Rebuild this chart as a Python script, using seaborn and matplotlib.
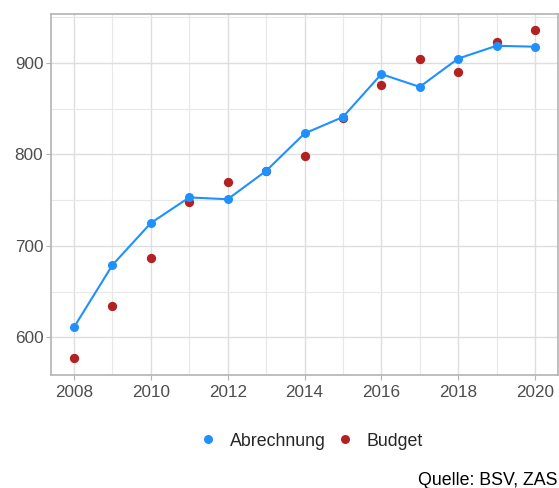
import pandas as pd
import numpy as np
import seaborn as sns
import matplotlib.pyplot as plt
from matplotlib.ticker import MultipleLocator
from matplotlib.lines import Line2D

# data
years = [2008, 2009, 2010, 2011, 2012, 2013, 2014, 2015, 2016, 2017, 2018, 2019, 2020]
abrechnung = [611, 679, 725, 753, 751, 782, 823, 841, 888, 874, 905, 919, 918]
budget = [577, 634, 687, 748, 770, 782, 798, 840, 876, 905, 890, 923, 936]

df = pd.DataFrame({'Jahr': years, 'Abrechnung': abrechnung, 'Budget': budget})

blue = '#1E90FF'
red = '#B22222'

sns.set_style("white")
plt.rcParams['font.family'] = ['Liberation Sans', 'DejaVu Sans']

fig = plt.figure(figsize=(5.59, 4.88), dpi=100)
ax = fig.add_axes([51/559, 1 - 375/488, 507/559, 361/488])

sns.lineplot(data=df, x='Jahr', y='Abrechnung', color=blue, linewidth=1.5,
             marker='o', markersize=6.5, markeredgewidth=0, ax=ax, zorder=3)
sns.scatterplot(data=df, x='Jahr', y='Budget', color=red, s=45, linewidth=0,
                ax=ax, zorder=2)

ax.set_xlim(2007.4, 2020.6)
ax.set_ylim(558.6, 953.8)
ax.xaxis.set_major_locator(MultipleLocator(2))
ax.xaxis.set_minor_locator(MultipleLocator(1))
ax.yaxis.set_major_locator(MultipleLocator(100))
ax.yaxis.set_minor_locator(MultipleLocator(50))
ax.grid(which='major', color='#DEDEDE', linewidth=1.0)
ax.grid(which='minor', color='#E8E8E8', linewidth=0.8)
ax.set_axisbelow(True)

for s in ax.spines.values():
    s.set_color('#B3B3B3')
    s.set_linewidth(1.2)

ax.tick_params(axis='both', which='major', length=3.5, width=0.8, color='#B3B3B3',
               labelsize=12.3, labelcolor='#4D4D4D', bottom=True, left=True)
ax.tick_params(axis='x', which='major', pad=4)
ax.tick_params(axis='y', which='major', pad=2)
ax.tick_params(which='minor', length=0)
ax.set_xlabel('')
ax.set_ylabel('')

handles = [Line2D([], [], marker='o', linestyle='', color=blue, markersize=6.5, markeredgewidth=0),
           Line2D([], [], marker='o', linestyle='', color=red, markersize=6.5, markeredgewidth=0)]
fig.legend(handles, ['Abrechnung', 'Budget'], loc='center', bbox_to_anchor=(310/559, 1 - 441/488),
           ncol=2, frameon=False, fontsize=12.8, handletextpad=0.6, columnspacing=0.5,
           handlelength=1.2)

fig.text(557/559, 1 - 485/488, 'Quelle: BSV, ZAS', ha='right', va='baseline', fontsize=12.8,
         color='black')

fig.savefig('out.png', dpi=100)
